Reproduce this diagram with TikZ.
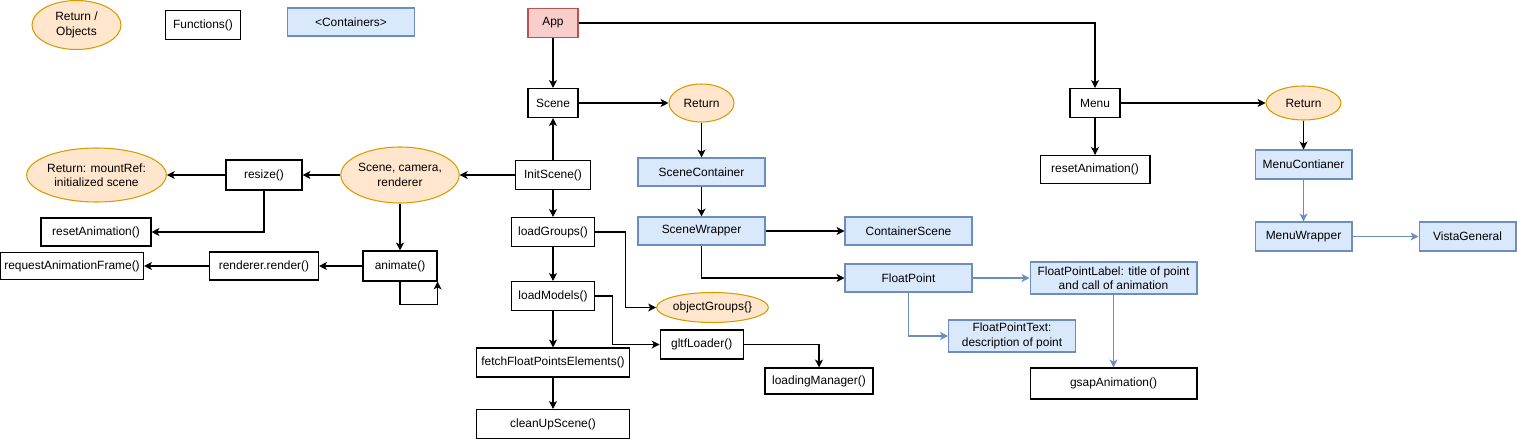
\documentclass[tikz,border=0pt]{standalone}
\usepackage{fontspec}
\setmainfont{Liberation Sans}
\usepackage{xcolor}
\usetikzlibrary{shapes.geometric,arrows.meta}
\tikzset{font={\fontsize{6.8pt}{8.2pt}\selectfont}}
\definecolor{retfill}{HTML}{FFE6CC}
\definecolor{retline}{HTML}{D79B00}
\definecolor{contfill}{HTML}{DAE8FC}
\definecolor{contline}{HTML}{6C8EBF}
\definecolor{appfill}{HTML}{F8CECC}
\definecolor{appline}{HTML}{B85450}

\begin{document}
\begin{tikzpicture}[x=0.02cm,y=-0.02cm,line width=0.6pt,
fn/.style={draw,fill=white,minimum height=0.58cm,inner sep=0pt,align=center},
ret/.style={ellipse,draw=retline,fill=retfill,inner sep=0pt,align=center},
cont/.style={draw=contline,fill=contfill,minimum height=0.56cm,inner sep=0pt,align=center},
app/.style={draw=appline,fill=appfill,minimum height=0.58cm,inner sep=0pt},
arr/.style={-{Stealth[length=4.5pt,width=4.5pt,inset=1.2pt]},draw=black},
barr/.style={-{Stealth[length=4.5pt,width=4.5pt,inset=1.2pt]},draw=contline}
]
\useasboundingbox (0,0) rectangle (1517,439);

%legend
\node[ret,minimum width=1.78cm,minimum height=0.98cm] (lr) at (76.5,25) {Return /\\Objects};
\node[fn,minimum width=1.5cm] (lf) at (203,25) {Functions()};
\node[cont,minimum width=2.54cm] (lc) at (351,22) {<Containers>};

%scene column
\node[app,minimum width=1cm] (app) at (553,23) {App};
\node[fn,minimum width=1cm] (scene) at (553,103) {Scene};
\node[ret,minimum width=1.3cm,minimum height=0.76cm] (sret) at (701.5,103) {Return};
\node[fn,minimum width=1.5cm] (init) at (553,175) {InitScene()};
\node[fn,minimum width=1.66cm] (lgrp) at (553,232) {loadGroups()};
\node[fn,minimum width=1.66cm] (lmod) at (553,296) {loadModels()};
\node[fn,minimum width=3.06cm] (fetch) at (553,362.5) {fetchFloatPointsElements()};
\node[fn,minimum width=3.06cm] (clean) at (553,424) {cleanUpScene()};
\node[ret,minimum width=2.1cm,minimum height=0.6cm] (ogrp) at (712.5,307.5) {objectGroups\{\}};
\node[fn,minimum width=1.66cm] (gltf) at (701.7,344.5) {gltfLoader()};
\node[fn,minimum width=2.16cm,minimum height=0.52cm] (lman) at (819,381) {loadingManager()};

%containers
\node[cont,minimum width=2.54cm] (scont) at (701.5,172) {SceneContainer};
\node[cont,minimum width=2.54cm] (swrap) at (701.5,231) {SceneWrapper};
\node[cont,minimum width=2.54cm] (cscene) at (908.5,231) {ContainerScene};
\node[cont,minimum width=2.54cm] (fpt) at (908.5,278) {FloatPoint};
\node[cont,minimum width=3.34cm,minimum height=0.64cm] (fplab) at (1113.5,278) {FloatPointLabel: title of point\\and call of animation};
\node[cont,minimum width=2.54cm,minimum height=0.64cm] (fptxt) at (1012,336) {FloatPointText:\\description of point};
\node[fn,minimum width=3.34cm,minimum height=0.62cm] (gsap) at (1113.5,383.5) {gsapAnimation()};

%menu
\node[fn,minimum width=1cm] (menu) at (1095,103) {Menu};
\node[ret,minimum width=1.5cm,minimum height=0.68cm] (mret) at (1303.5,103) {Return};
\node[fn,minimum width=2.2cm,minimum height=0.56cm] (mreset) at (1095,169.5) {resetAnimation()};
\node[cont,minimum width=1.94cm,minimum height=0.58cm] (mcont) at (1303.5,164.5) {MenuContianer};
\node[cont,minimum width=1.94cm,minimum height=0.58cm] (mwrap) at (1303.5,236.5) {MenuWrapper};
\node[cont,minimum width=1.94cm,minimum height=0.58cm] (vista) at (1467.5,236.5) {VistaGeneral};

%render loop
\node[ret,minimum width=2.42cm,minimum height=1.08cm] (mref) at (96.5,175) {Return: mountRef:\\initialized scene};
\node[fn,minimum width=1.52cm,minimum height=0.6cm] (resize) at (264,175) {resize()};
\node[ret,minimum width=1.94cm,minimum height=1.12cm] (scr) at (400,175) {Scene, camera,\\renderer};
\node[fn,minimum width=2.2cm,minimum height=0.56cm] (lreset) at (96,232) {resetAnimation()};
\node[fn,minimum width=2.86cm,minimum height=0.54cm] (raf) at (72,266) {requestAnimationFrame()};
\node[fn,minimum width=2.18cm,minimum height=0.56cm] (rrend) at (264,266) {renderer.render()};
\node[fn,minimum width=1.48cm,minimum height=0.6cm] (anim) at (400,266) {animate()};

\draw[arr] (app) -- (scene);
\draw[arr] (app) -| (menu);
\draw[arr] (scene) -- (sret);
\draw[arr] (sret) -- (scont);
\draw[arr] (scont) -- (swrap);
\draw[arr] (swrap) -- (cscene);
\draw[arr] (swrap) |- (fpt);
\draw[arr] (init) -- (scene);
\draw[arr] (init) -- (scr);
\draw[arr] (init) -- (lgrp);
\draw[arr] (lgrp) -- (lmod);
\draw[arr] (lgrp.east) -- ++(30,0) |- (ogrp);
\draw[arr] (lmod.east) -- ++(17,0) |- (gltf);
\draw[arr] (lmod) -- (fetch);
\draw[arr] (fetch) -- (clean);
\draw[arr] (gltf) -| (lman);

\draw[arr] (scr) -- (resize);
\draw[arr] (scr) -- (anim);
\draw[arr] (resize) -- (mref);
\draw[arr] (resize) |- (lreset);
\draw[arr] (anim) -- (rrend);
\draw[arr] (rrend) -- (raf);
\draw[arr] (anim.south) -- ++(0,23) -| (anim.south east);

\draw[arr] (menu) -- (mret);
\draw[arr] (menu) -- (mreset);
\draw[arr] (mret) -- (mcont);
\draw[barr] (mcont) -- (mwrap);
\draw[barr] (mwrap) -- (vista);
\draw[barr] (fpt) -- (fplab);
\draw[barr] (fpt) |- (fptxt);
\draw[barr] (fplab) -- (gsap);

\end{tikzpicture}
\end{document}
